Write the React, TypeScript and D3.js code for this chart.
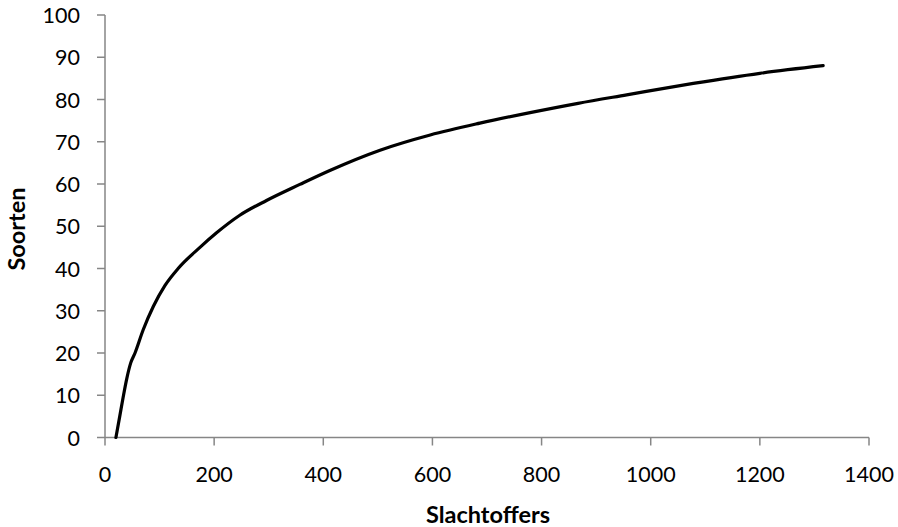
import React from "react";
import * as d3 from "d3";

const victims = [20, 27, 33.5, 40, 47, 55, 70, 88.5, 110, 134, 174, 205, 247, 296, 357, 412, 504, 596, 687, 779, 867, 956, 1078, 1200, 1316];
const species = [0, 5, 9.7, 14, 17.6, 20, 25.5, 31, 36, 40, 45.0, 48.5, 52.6, 56.1, 59.9, 63.2, 68.0, 71.6, 74.4, 76.9, 79.1, 81.1, 83.8, 86.2, 88.0];
const xTicks = [0, 200, 400, 600, 800, 1000, 1200, 1400];
const yTicks = [0, 10, 20, 30, 40, 50, 60, 70, 80, 90, 100];
const xTitle = "Slachtoffers";
const yTitle = "Soorten";

export default function App() {
  const W = 898, H = 527;
  const x = d3.scaleLinear().domain([0, 1400]).range([105, 869]);
  const y = d3.scaleLinear().domain([0, 100]).range([437.5, 15]);
  const pts = victims.map((v, i) => [v, species[i]] as [number, number]);
  const line = d3.line<[number, number]>().x(d => x(d[0])).y(d => y(d[1])).curve(d3.curveMonotoneX);
  const axisColor = "#868686";
  const font = "Lato, 'Open Sans', sans-serif";
  return (
    <svg width={W} height={H} style={{ position: "absolute", left: 0, top: 0, background: "#fff" }}>
      <g>
        <line x1={x(0)} x2={x(0)} y1={y(100)} y2={y(0)} stroke={axisColor} strokeWidth={1.5} />
        <line x1={x(0)} x2={x(1400)} y1={y(0)} y2={y(0)} stroke={axisColor} strokeWidth={1.5} />
        {yTicks.map(t => (
          <g key={"y" + t}>
            <line x1={x(0) - 8} x2={x(0)} y1={y(t)} y2={y(t)} stroke={axisColor} strokeWidth={1.5} />
            <text x={80} y={y(t) + 8} textAnchor="end" fontFamily={font} fontSize={21.5} fill="#000">{t}</text>
          </g>
        ))}
        {xTicks.map(t => (
          <g key={"x" + t}>
            <line x1={x(t)} x2={x(t)} y1={y(0)} y2={y(0) + 8} stroke={axisColor} strokeWidth={1.5} />
            <text x={x(t)} y={482} textAnchor="middle" fontFamily={font} fontSize={21.5} fill="#000">{t}</text>
          </g>
        ))}
        <text x={488} y={523} textAnchor="middle" fontFamily={font} fontSize={23.5} fontWeight="bold" fill="#000">{xTitle}</text>
        <text transform={`translate(25,229) rotate(-90)`} textAnchor="middle" fontFamily={font} fontSize={23.5} fontWeight="bold" fill="#000">{yTitle}</text>
        <path d={line(pts) || ""} fill="none" stroke="#000" strokeWidth={3.2} strokeLinecap="round" strokeLinejoin="round" />
      </g>
    </svg>
  );
}
